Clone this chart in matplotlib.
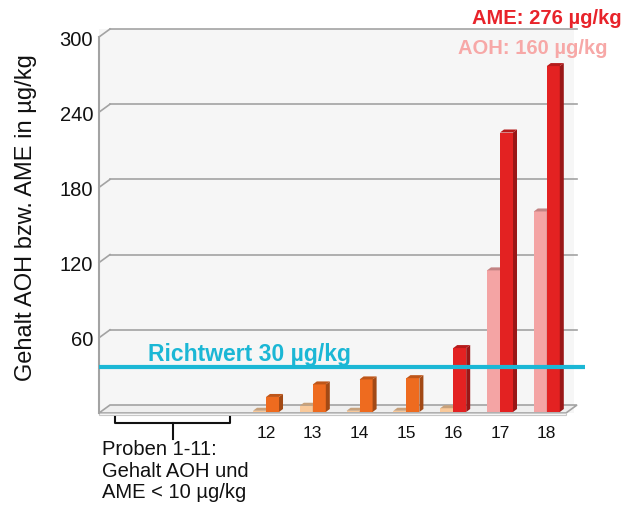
import matplotlib
matplotlib.use("Agg")
import matplotlib.pyplot as plt
from matplotlib.patches import Polygon, Rectangle

plt.rcParams['font.family'] = ['Liberation Sans', 'DejaVu Sans']

# Proben 12-18 (Proben 1-11 below 10 µg/kg, not drawn)
samples = ['12', '13', '14', '15', '16', '17', '18']
aoh = [1, 5, 1, 1, 3, 113, 160]
ame = [12, 22, 26, 27, 51, 223, 276]
aoh_colors = ['#F9C99A', '#F9C99A', '#F9C99A', '#F9C99A', '#F9C99A', '#F4A4A4', '#F4A4A4']
ame_colors = ['#EE6B1F', '#EE6B1F', '#EE6B1F', '#EE6B1F', '#E32222', '#E32222', '#E32222']
yticks = [60, 120, 180, 240, 300]
richtwert = 30


def darker(c, f):
    r, g, b = matplotlib.colors.to_rgb(c)
    return (r * f, g * f, b * f)


W, H = 631, 515
fig = plt.figure(figsize=(W / 100, H / 100), dpi=100)
# axes = back wall of the pseudo-3D chart
ax = fig.add_axes([110 / W, 110 / H, 467 / W, 376 / H])
ax.set_xlim(-3.526, 6.453)
ax.set_ylim(0, 300)
ax.axis('off')

ux = 467 / (6.453 + 3.526)   # px per category
uy = 376 / 300               # px per µg/kg
FX, FY = -11 / ux, -8 / uy   # front plane offset
BX, BY = -9 / ux, -7 / uy    # bar front face offset
DX, DY = 4 / ux, 3 / uy      # bar depth
bw = 13 / ux
xl, xr = ax.get_xlim()
gray = '#A3A3A3'

# wall background
ax.add_patch(Rectangle((xl + FX, FY), xr - xl + 8 / ux, 300 - FY,
                       facecolor='#F6F6F6', edgecolor='none', zorder=0, clip_on=False))

# floor slab
ax.add_patch(Polygon([(xl + FX, FY), (xl, 0), (xr, 0), (xr + FX, FY)],
                     closed=True, facecolor='#EFEFEF', edgecolor=gray, lw=1.2,
                     zorder=1, clip_on=False))
ax.add_patch(Rectangle((xl + FX, FY - 2 / uy), xr - xl, 2 / uy,
                       facecolor='#FAFAFA', edgecolor='#C8C8C8', lw=0.8,
                       zorder=1, clip_on=False))

# gridlines with slanted connectors and tick labels
for t in yticks:
    ax.plot([xl, xr], [t, t], color=gray, lw=1.2, zorder=1, clip_on=False)
    ax.plot([xl + FX, xl], [t + FY, t], color=gray, lw=1.2, zorder=1, clip_on=False)
    ax.text(xl + FX - 6 / ux, t + FY - 3 / uy, str(t), ha='right', va='center',
            fontsize=14.5, color='#111111')
ax.plot([xl + FX, xl + FX], [FY, 300 + FY], color=gray, lw=1.5, zorder=2, clip_on=False)


def bar3d(x0, v, color):
    x1 = x0 + bw
    b, t = BY, v + BY
    ax.add_patch(Rectangle((x0, b), bw, v, facecolor=color, edgecolor='none',
                           zorder=3, clip_on=False))
    ax.add_patch(Polygon([(x1, b), (x1, t), (x1 + DX, t + DY), (x1 + DX, b + DY)],
                         closed=True, facecolor=darker(color, 0.68), edgecolor='none',
                         zorder=3, clip_on=False))
    ax.add_patch(Polygon([(x0, t), (x1, t), (x1 + DX, t + DY), (x0 + DX, t + DY)],
                         closed=True, facecolor=darker(color, 0.8), edgecolor='none',
                         zorder=3, clip_on=False))


for i, name in enumerate(samples):
    xc = i + BX
    bar3d(xc - bw, aoh[i], aoh_colors[i])
    bar3d(xc, ame[i], ame_colors[i])
    ax.text(xc, -29 / uy, name, ha='center', va='center', fontsize=12.5, color='#111111')

# Richtwert line
cyan = '#1BB7D5'
ax.plot([xl + FX, xr + 8 / ux], [richtwert, richtwert], color=cyan, lw=3,
        zorder=5, clip_on=False, solid_capstyle='butt')
ax.text(xl + 38 / ux, richtwert + 13 / uy, 'Richtwert 30 µg/kg', color=cyan,
        fontsize=16.5, fontweight='bold', ha='left', va='center', zorder=5)

# bracket for Proben 1-11
bx0, bx1, by = 115 / W, 230 / W, (H - 423) / H
fig.add_artist(plt.Line2D([bx0, bx0, bx1, bx1], [(H - 417) / H, by, by, (H - 417) / H],
                          transform=fig.transFigure, color='#111111', lw=1.5))
fig.add_artist(plt.Line2D([(bx0 + bx1) / 2] * 2, [by, (H - 439) / H],
                          transform=fig.transFigure, color='#111111', lw=1.5))
fig.text(102 / W, (H - 440) / H, 'Proben 1-11:\nGehalt AOH und\nAME < 10 µg/kg',
         ha='left', va='top', fontsize=14.5, color='#111111', linespacing=1.18)

# headline values
fig.text(472 / W, (H - 18) / H, 'AME: 276 µg/kg', color='#E8232A', fontsize=14.5,
         fontweight='bold', ha='left', va='center')
fig.text(458 / W, (H - 49) / H, 'AOH: 160 µg/kg', color='#F7A8A7', fontsize=14.5,
         fontweight='bold', ha='left', va='center')

fig.text(26 / W, (H - 218) / H, 'Gehalt AOH bzw. AME in µg/kg', rotation=90,
         ha='center', va='center', fontsize=17, color='#111111')

fig.savefig('out.png', dpi=100)
